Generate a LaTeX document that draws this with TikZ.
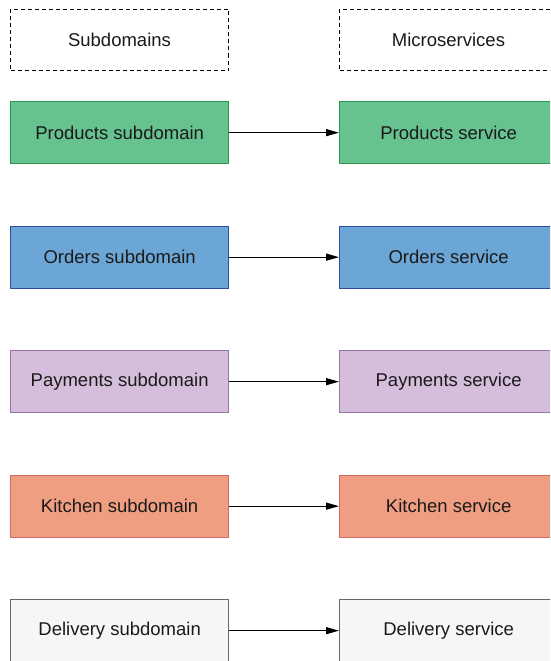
\documentclass[tikz,border=0pt]{standalone}
\usepackage{fontspec}
\setmainfont{Liberation Sans}
\usetikzlibrary{arrows.meta}
\definecolor{gfill}{HTML}{66C28F}\definecolor{gline}{HTML}{2A9A4A}
\definecolor{bfill}{HTML}{6CA6D6}\definecolor{bline}{HTML}{2F4D9E}
\definecolor{pfill}{HTML}{D5BDDC}\definecolor{pline}{HTML}{9673A6}
\definecolor{ofill}{HTML}{F09E82}\definecolor{oline}{HTML}{D06A6A}
\definecolor{dfill}{HTML}{F6F6F6}\definecolor{dline}{HTML}{666666}
\definecolor{txt}{HTML}{1A1A1A}
\tikzset{
  box/.style={rectangle, anchor=north west, minimum width=218pt, minimum height=62pt,
    inner sep=0pt, line width=1.3pt, text=txt, font=\fontsize{18.5}{22}\selectfont},
  hdr/.style={box, draw=black, dashed, dash pattern=on 4pt off 3pt, line width=1pt, minimum height=61pt},
  conn/.style={-{Triangle[length=13pt,width=7pt]}, line width=1.3pt, black}
}
\begin{document}
\begin{tikzpicture}[x=1pt,y=1pt]
\path[use as bounding box, clip] (0,0) rectangle (550,-661);
\fill[white] (0,0) rectangle (550,-661);
\node[hdr] (hs) at (10,-9) {Subdomains};
\node[hdr] (hm) at (339,-9) {Microservices};
\node[box, fill=gfill, draw=gline] (s1) at (10,-101) {Products subdomain};
\node[box, fill=gfill, draw=gline] (m1) at (339,-101) {Products service};
\node[box, fill=bfill, draw=bline] (s2) at (10,-225.5) {Orders subdomain};
\node[box, fill=bfill, draw=bline] (m2) at (339,-225.5) {Orders service};
\node[box, fill=pfill, draw=pline] (s3) at (10,-350) {Payments subdomain};
\node[box, fill=pfill, draw=pline] (m3) at (339,-350) {Payments service};
\node[box, fill=ofill, draw=oline] (s4) at (10,-474.5) {Kitchen subdomain};
\node[box, fill=ofill, draw=oline] (m4) at (339,-474.5) {Kitchen service};
\node[box, fill=dfill, draw=dline] (s5) at (10,-599) {Delivery subdomain};
\node[box, fill=dfill, draw=dline] (m5) at (339,-599) {Delivery service};
\foreach \i in {1,...,5}{\draw[conn] (s\i.east) -- (m\i.west);}
\end{tikzpicture}
\end{document}
